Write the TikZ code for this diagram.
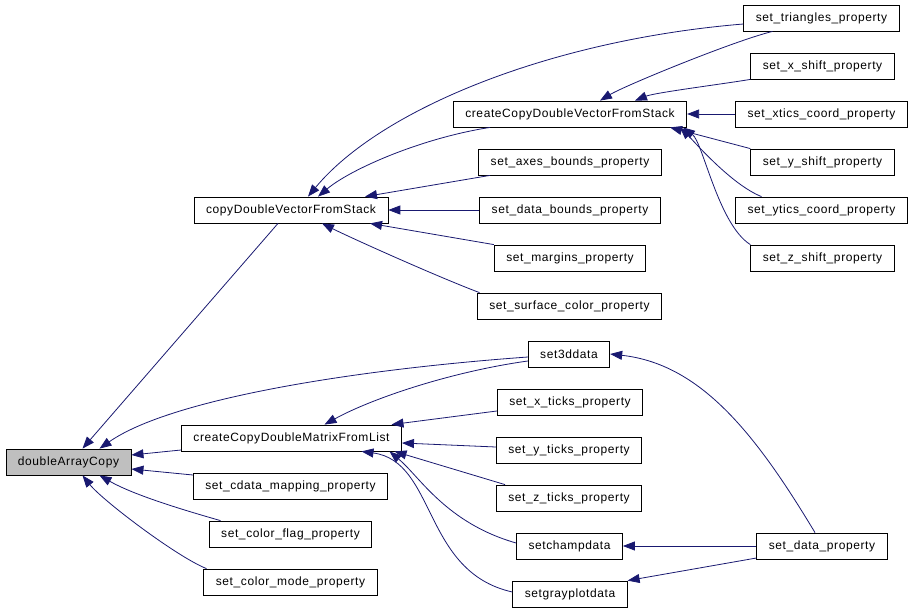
\documentclass[tikz,border=0pt]{standalone}
\usepackage{fontspec}
\setmainfont{Liberation Sans}
\newfontfamily\graphfont[LetterSpace=5]{Liberation Sans}
\usetikzlibrary{arrows.meta}
\definecolor{edgeblue}{HTML}{191970}
\definecolor{rootgray}{HTML}{BFBFBF}
\tikzset{
  fn/.style={draw=black, line width=0.8pt, minimum height=26pt, inner xsep=12pt, font=\graphfont\fontsize{12}{14}\selectfont},
  calledge/.style={{Triangle[length=12pt,width=9pt]}-, draw=edgeblue, line width=0.8pt}
}

\begin{document}
\begin{tikzpicture}[x=1pt,y=-1pt]
  \useasboundingbox (0,0) rectangle (911,610);
  % root of the caller graph
  \node[fn,fill=rootgray] (dac) at (68.5,462) {doubleArrayCopy};
  % second column
  \node[fn] (cdvfs) at (291,210) {copyDoubleVectorFromStack};
  \node[fn] (cdmfl) at (291.5,438) {createCopyDoubleMatrixFromList};
  \node[fn] (cdatamap) at (290.5,486) {set\_cdata\_mapping\_property};
  \node[fn] (colflag) at (290.5,534) {set\_color\_flag\_property};
  \node[fn] (colmode) at (290.5,582) {set\_color\_mode\_property};
  % third column
  \node[fn] (ccdvfs) at (570,114) {createCopyDoubleVectorFromStack};
  \node[fn] (axesb) at (570,162) {set\_axes\_bounds\_property};
  \node[fn] (datab) at (570,210) {set\_data\_bounds\_property};
  \node[fn] (margins) at (570,258) {set\_margins\_property};
  \node[fn] (surfcol) at (569.5,306) {set\_surface\_color\_property};
  \node[fn] (s3d) at (569,354) {set3ddata};
  \node[fn] (xticks) at (570,402) {set\_x\_ticks\_property};
  \node[fn] (yticks) at (569,450) {set\_y\_ticks\_property};
  \node[fn] (zticks) at (569,498) {set\_z\_ticks\_property};
  \node[fn] (champ) at (569.5,546) {setchampdata};
  \node[fn] (gray) at (570,594) {setgrayplotdata};
  % fourth column
  \node[fn] (tri) at (821.5,18) {set\_triangles\_property};
  \node[fn] (xshift) at (822.5,66) {set\_x\_shift\_property};
  \node[fn] (xtics) at (821.5,114) {set\_xtics\_coord\_property};
  \node[fn] (yshift) at (822.5,162) {set\_y\_shift\_property};
  \node[fn] (ytics) at (821.5,210) {set\_ytics\_coord\_property};
  \node[fn] (zshift) at (822.5,258) {set\_z\_shift\_property};
  \node[fn] (dataprop) at (822,546) {set\_data\_property};

  % callers of doubleArrayCopy
  \draw[calledge] ([xshift=14]dac.north) -- ([xshift=-13]cdvfs.south);
  \draw[calledge] ([xshift=31]dac.north) .. controls +(70,-49) and +(-179,13) .. ([yshift=-3]s3d.west);
  \draw[calledge] ([yshift=7]dac.east) -- ([yshift=-12]cdmfl.west);
  \draw[calledge] ([yshift=-7]dac.east) -- ([yshift=11]cdatamap.west);
  \draw[calledge] ([xshift=31]dac.south) .. controls +(35,20) and +(-35,-10) .. ([xshift=-70]colflag.north);
  \draw[calledge] ([xshift=14]dac.south) .. controls +(20,25) and +(-30,-12) .. ([xshift=-84]colmode.north);

  % callers of copyDoubleVectorFromStack
  \draw[calledge] ([xshift=17]cdvfs.north) .. controls +(72,-87) and +(-194,16) .. ([yshift=-6]tri.west);
  \draw[calledge] ([xshift=27]cdvfs.north) .. controls +(32,-27) and +(-70,11) .. ([xshift=-80]ccdvfs.south);
  \draw[calledge] ([xshift=74]cdvfs.north) -- ([xshift=-80]axesb.south);
  \draw[calledge] (cdvfs.east) -- (datab.west);
  \draw[calledge] ([xshift=79]cdvfs.south) -- (margins.north west);
  \draw[calledge] ([xshift=31]cdvfs.south) .. controls +(30,15) and +(-40,-15) .. ([xshift=-90]surfcol.north);

  % callers of createCopyDoubleVectorFromStack
  \draw[calledge] ([xshift=30]ccdvfs.north) .. controls +(25,-15) and +(-40,10) .. ([xshift=-49]tri.south);
  \draw[calledge] ([xshift=65]ccdvfs.north) .. controls +(20,-8) and +(-30,5) .. (xshift.south west);
  \draw[calledge] (ccdvfs.east) -- (xtics.west);
  \draw[calledge] ([xshift=100]ccdvfs.south) -- (yshift.north west);
  \draw[calledge] ([xshift=110]ccdvfs.south) .. controls +(15,15) and +(-30,-12) .. ([xshift=-60]ytics.north);
  \draw[calledge] ([xshift=113]ccdvfs.south) .. controls +(20,15) and +(-32,-20) .. (zshift.north west);

  % callers of createCopyDoubleMatrixFromList
  \draw[calledge] ([xshift=33]cdmfl.north) .. controls +(45,-25) and +(-79,11) .. ([yshift=-7]s3d.west);
  \draw[calledge] ([xshift=100]cdmfl.north) -- ([yshift=-9]xticks.west);
  \draw[calledge] ([yshift=-5]cdmfl.east) -- ([yshift=3]yticks.west);
  \draw[calledge] ([xshift=103]cdmfl.south) -- ([xshift=-64]zticks.north);
  \draw[calledge] ([xshift=98]cdmfl.south) .. controls +(30,25) and +(-70,-20) .. ([yshift=3]champ.west);
  \draw[calledge] ([xshift=70]cdmfl.south) .. controls +(75,10) and +(-90,-20) .. ([yshift=2]gray.west);

  % callers via set_data_property
  \draw[calledge] (s3d.east) .. controls +(90,10) and +(-60,-100) .. ([xshift=-7]dataprop.north);
  \draw[calledge] (champ.east) -- (dataprop.west);
  \draw[calledge] (gray.north east) -- ([yshift=-12]dataprop.west);
\end{tikzpicture}
\end{document}
